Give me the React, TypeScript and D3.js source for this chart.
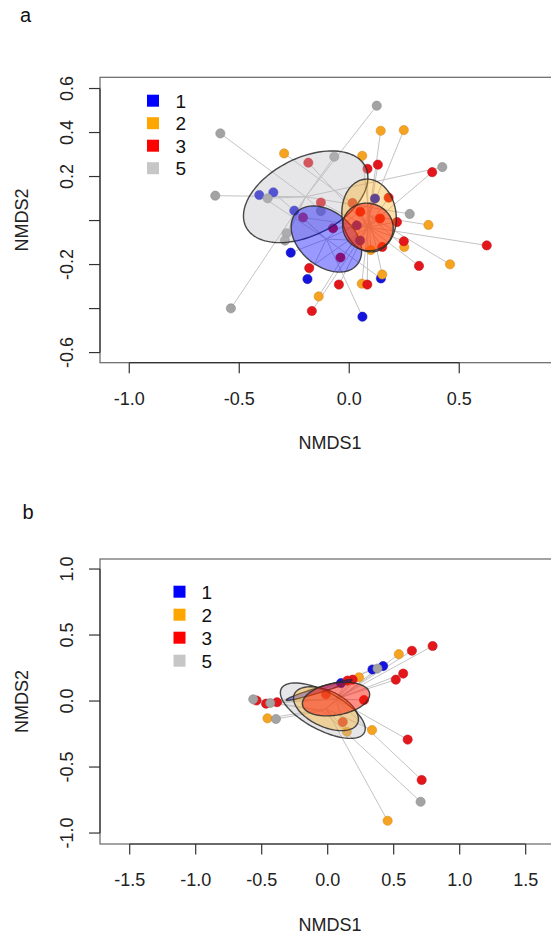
import React from 'react';
import * as d3 from 'd3';

// ---------- shared ----------
const groups = ['1', '2', '3', '5'];
const pointColors = ['#1414dc', '#f6a321', '#e3161c', '#a3a3a3'];
const legendColors = ['#0000ff', '#ffa500', '#ff0000', '#c6c6c6'];
const ellipseFills = ['rgba(0,0,255,0.40)', 'rgba(255,165,0,0.33)', 'rgba(255,20,0,0.48)', 'rgba(190,190,195,0.38)'];

// ---------- panel a data (NMDS1, NMDS2) ----------
const aX1 = [-0.409, -0.345, -0.250, -0.266, -0.190, 0.060, 0.144, 0.117, 0.034, 0.049];
const aY1 = [0.116, 0.128, 0.045, -0.146, -0.266, -0.437, -0.263, 0.100, -0.022, -0.091];
const aX2 = [-0.296, 0.059, 0.143, 0.248, -0.139, 0.057, 0.150, 0.458, 0.360, 0.250, 0.098];
const aY2 = [0.305, 0.294, 0.408, 0.411, -0.345, -0.287, -0.245, -0.199, -0.020, -0.120, -0.134];
const aX3 = [-0.186, 0.083, 0.130, 0.377, -0.129, -0.210, -0.074, -0.040, -0.182, -0.047, -0.170, 0.082, 0.317, 0.625, 0.217, 0.248, 0.150, 0.179, 0.015, 0.050, 0.140];
const aY3 = [0.263, 0.235, 0.254, 0.220, 0.082, 0.014, -0.035, -0.168, -0.216, -0.291, -0.411, -0.291, -0.206, -0.113, -0.007, -0.094, -0.120, 0.104, 0.080, 0.040, 0.009];
const aX5 = [-0.586, -0.068, 0.125, 0.423, -0.371, -0.609, -0.129, -0.285, -0.292, -0.538, 0.275];
const aY5 = [0.396, 0.290, 0.522, 0.243, 0.101, 0.113, 0.043, -0.058, -0.091, -0.399, 0.030];
// ellipses: centre x, centre y, semi-axis a, semi-axis b, angle (deg)
const aEllCx = [-0.104, 0.090, 0.085, -0.198];
const aEllCy = [-0.084, 0.023, -0.029, 0.108];
const aEllA = [0.182, 0.166, 0.116, 0.304];
const aEllB = [0.123, 0.123, 0.107, 0.176];
const aEllAng = [-40, 97, -20, 26.7];
const aXTicks = [-1.0, -0.5, 0.0, 0.5];
const aXTickLabels = ['-1.0', '-0.5', '0.0', '0.5'];
const aYTicks = [-0.6, -0.4, -0.2, 0.0, 0.2, 0.4, 0.6];
const aYTickLabels = ['-0.6', '', '-0.2', '', '0.2', '0.4', '0.6'];

// ---------- panel b data ----------
const bX1 = [0.101, 0.339, 0.420];
const bY1 = [0.136, 0.239, 0.265];
const bX2 = [0.539, 0.237, -0.456, 0.145, 0.336, 0.454];
const bY2 = [0.355, 0.180, -0.131, -0.233, -0.220, -0.907];
const bX3 = [0.795, 0.638, 0.572, 0.516, 0.189, 0.150, -0.539, -0.467, -0.384, 0.114, -0.013, 0.275, 0.606, 0.712];
const bY3 = [0.417, 0.381, 0.208, 0.162, 0.162, 0.155, 0.004, -0.020, -0.009, -0.159, 0.052, 0.008, -0.292, -0.598];
const bX5 = [-0.564, -0.435, -0.392, 0.377, 0.704];
const bY5 = [0.013, -0.015, -0.136, 0.246, -0.763];
const bEllCx = [-0.066, -0.013, 0.063, -0.037];
const bEllCy = [0.083, -0.058, 0.015, -0.073];
const bEllA = [0.26, 0.264, 0.258, 0.356];
const bEllB = [0.02, 0.136, 0.121, 0.144];
const bEllAng = [17, -25, 10, -28];
const bXTicks = [-1.5, -1.0, -0.5, 0.0, 0.5, 1.0, 1.5];
const bXTickLabels = ['-1.5', '-1.0', '-0.5', '0.0', '0.5', '1.0', '1.5'];
const bYTicks = [-1.0, -0.5, 0.0, 0.5, 1.0];
const bYTickLabels = ['-1.0', '-0.5', '0.0', '0.5', '1.0'];

const FONT = "'Liberation Sans', Arial, Helvetica, sans-serif";

type Panel = {
  letter: string; letterY: number; letterX: number;
  left: number; right: number; top: number; bottom: number;
  xDomain: number[]; yDomain: number[];
  xTicks: number[]; xTickLabels: string[]; yTicks: number[]; yTickLabels: string[];
  xs: number[][]; ys: number[][];
  ell: { cx: number[]; cy: number[]; a: number[]; b: number[]; ang: number[] };
  legendSqX: number; legendTextX: number; legendY0: number; legendStep: number;
  xTickLabelY: number; xTitleY: number;
};

const panels: Panel[] = [
  {
    letter: 'a', letterX: 20, letterY: 22,
    left: 100, right: 560, top: 77.3, bottom: 362.7,
    xDomain: [-1.133, 0.958], yDomain: [-0.646, 0.651],
    xTicks: aXTicks, xTickLabels: aXTickLabels, yTicks: aYTicks, yTickLabels: aYTickLabels,
    xs: [aX1, aX2, aX3, aX5], ys: [aY1, aY2, aY3, aY5],
    ell: { cx: aEllCx, cy: aEllCy, a: aEllA, b: aEllB, ang: aEllAng },
    legendSqX: 147, legendTextX: 175.5, legendY0: 100.7, legendStep: 22.5,
    xTickLabelY: 405, xTitleY: 449,
  },
  {
    letter: 'b', letterX: 22.5, letterY: 519,
    left: 100, right: 560, top: 559, bottom: 844,
    xDomain: [-1.725, 1.760], yDomain: [-1.083, 1.076],
    xTicks: bXTicks, xTickLabels: bXTickLabels, yTicks: bYTicks, yTickLabels: bYTickLabels,
    xs: [bX1, bX2, bX3, bX5], ys: [bY1, bY2, bY3, bY5],
    ell: { cx: bEllCx, cy: bEllCy, a: bEllA, b: bEllB, ang: bEllAng },
    legendSqX: 173.5, legendTextX: 201.5, legendY0: 591.7, legendStep: 23,
    xTickLabelY: 886, xTitleY: 931,
  },
];

function ellipsePath(cx: number, cy: number, a: number, b: number, angDeg: number,
  sx: d3.ScaleLinear<number, number>, sy: d3.ScaleLinear<number, number>) {
  const ang = (angDeg * Math.PI) / 180;
  const pts: [number, number][] = d3.range(0, 121).map((i) => {
    const t = (i / 120) * 2 * Math.PI;
    const ux = a * Math.cos(t);
    const uy = b * Math.sin(t);
    return [sx(cx + ux * Math.cos(ang) - uy * Math.sin(ang)), sy(cy + ux * Math.sin(ang) + uy * Math.cos(ang))];
  });
  return (d3.line()(pts) || '') + 'Z';
}

function PanelView({ p }: { p: Panel }) {
  const sx = d3.scaleLinear().domain(p.xDomain).range([p.left, p.right]);
  const sy = d3.scaleLinear().domain(p.yDomain).range([p.bottom, p.top]);
  const pointOrder = [0, 1, 2, 3];
  const ellOrder = [3, 0, 1, 2];
  const midY = (p.top + p.bottom) / 2;
  return (
    <g>
      <text x={p.letterX} y={p.letterY} fontSize={20} fontFamily={FONT} fill="#111">{p.letter}</text>
      <rect x={p.left} y={p.top} width={p.right - p.left} height={p.bottom - p.top} fill="none" stroke="#666" strokeWidth={1.2} />
      <g stroke="#c4c4c4" strokeWidth={1} fill="none">
        {pointOrder.map((g) =>
          p.xs[g].map((x, i) => (
            <line key={`s${g}-${i}`} x1={sx(p.ell.cx[g])} y1={sy(p.ell.cy[g])} x2={sx(x)} y2={sy(p.ys[g][i])} />
          ))
        )}
      </g>
      {pointOrder.map((g) =>
        p.xs[g].map((x, i) => (
          <circle key={`p${g}-${i}`} cx={sx(x)} cy={sy(p.ys[g][i])} r={4.6}
            fill={pointColors[g]} stroke={d3.color(pointColors[g])!.darker(0.4).toString()} strokeWidth={0.6} />
        ))
      )}
      {ellOrder.map((g) => (
        <path key={`e${g}`} d={ellipsePath(p.ell.cx[g], p.ell.cy[g], p.ell.a[g], p.ell.b[g], p.ell.ang[g], sx, sy)}
          fill={ellipseFills[g]} stroke="#2a2a2a" strokeWidth={1.4} strokeOpacity={0.85} />
      ))}
      <g stroke="#333" strokeWidth={1.2}>
        <line x1={sx(p.xTicks[0])} x2={sx(p.xTicks[p.xTicks.length - 1])} y1={p.bottom} y2={p.bottom} />
        {p.xTicks.map((t) => (
          <line key={`xt${t}`} x1={sx(t)} x2={sx(t)} y1={p.bottom} y2={p.bottom + 10.5} />
        ))}
        <line x1={p.left} x2={p.left} y1={sy(p.yTicks[0])} y2={sy(p.yTicks[p.yTicks.length - 1])} />
        {p.yTicks.map((t) => (
          <line key={`yt${t}`} x1={p.left - 11} x2={p.left} y1={sy(t)} y2={sy(t)} />
        ))}
      </g>
      {p.xTicks.map((t, i) => (
        <text key={`xl${t}`} x={sx(t)} y={p.xTickLabelY} textAnchor="middle" fontSize={18} fontFamily={FONT} fill="#222">
          {p.xTickLabels[i]}
        </text>
      ))}
      {p.yTicks.map((t, i) => (
        <text key={`yl${t}`} transform={`translate(73,${sy(t)}) rotate(-90)`} textAnchor="middle" fontSize={18} fontFamily={FONT} fill="#222">
          {p.yTickLabels[i]}
        </text>
      ))}
      <text x={330} y={p.xTitleY} textAnchor="middle" fontSize={18} fontFamily={FONT} fill="#222">NMDS1</text>
      <text transform={`translate(28,${midY}) rotate(-90)`} textAnchor="middle" fontSize={18} fontFamily={FONT} fill="#222">NMDS2</text>
      {groups.map((gName, g) => (
        <g key={`lg${g}`}>
          <rect x={p.legendSqX} y={p.legendY0 + g * p.legendStep - 6} width={12} height={12} fill={legendColors[g]} />
          <text x={p.legendTextX} y={p.legendY0 + g * p.legendStep + 7} fontSize={19} fontFamily={FONT} fill="#111">{gName}</text>
        </g>
      ))}
    </g>
  );
}

export default function App() {
  return (
    <svg width={551} height={934} style={{ position: 'absolute', left: 0, top: 0, background: '#fff' }}>
      <rect x={0} y={0} width={551} height={934} fill="#fff" />
      {panels.map((p) => (
        <PanelView key={p.letter} p={p} />
      ))}
    </svg>
  );
}
